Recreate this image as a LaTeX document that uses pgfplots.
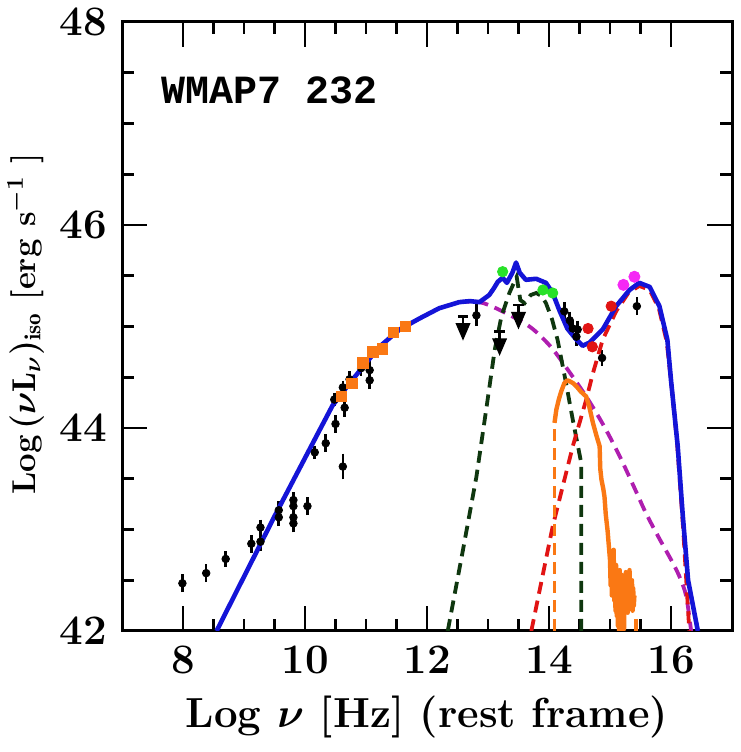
\documentclass[border=0pt]{standalone}
\usepackage{pgfplots}
\pgfplotsset{compat=1.18}
\usepackage{fontspec}
\newfontfamily\titlefont{Liberation Mono}
\definecolor{cblue}{RGB}{20,20,215}
\definecolor{cgreen}{RGB}{15,55,15}
\definecolor{cmag}{RGB}{175,30,175}
\definecolor{cred}{RGB}{225,20,20}
\definecolor{corange}{RGB}{250,120,20}
\definecolor{dgreen}{RGB}{40,225,40}
\definecolor{dmag}{RGB}{245,40,245}
\pgfdeclareplotmark{ulim}{%
  \pgfsetlinewidth{1.3pt}%
  \pgfpathmoveto{\pgfpoint{-2.6pt}{0pt}}\pgfpathlineto{\pgfpoint{2.6pt}{0pt}}\pgfusepathqstroke
  \pgfpathmoveto{\pgfpoint{0pt}{0pt}}\pgfpathlineto{\pgfpoint{0pt}{-4pt}}\pgfusepathqstroke
  \pgfpathmoveto{\pgfpoint{-2.8pt}{-4pt}}\pgfpathlineto{\pgfpoint{2.8pt}{-4pt}}\pgfpathlineto{\pgfpoint{0pt}{-10.5pt}}\pgfpathclose\pgfusepathqfillstroke}
\begin{document}
\begin{tikzpicture}
\begin{axis}[
  scale only axis, width=305pt, height=304.5pt,
  xmin=7, xmax=17, ymin=42, ymax=48,
  xtick={8,10,12,14,16}, ytick={42,44,46,48},
  minor x tick num=3, minor y tick num=3,
  major tick length=12.5pt, minor tick length=6pt,
  every tick/.style={black, line width=1.4pt},
  axis line style={line width=1.5pt},
  tick align=inside,
  /pgf/number format/assume math mode=true,
  tick label style={font=\fontsize{21}{24}\selectfont\bfseries},
  xticklabel style={yshift=-4pt},
  yticklabel style={xshift=-4pt},
  xlabel style={font=\fontsize{21}{24}\selectfont\bfseries\boldmath},
  ylabel style={font=\fontsize{16.5}{20}\selectfont\bfseries\boldmath},
  xlabel={Log $\nu$ [Hz] (rest frame)},
  ylabel={Log\,$(\nu\mathrm{L}_\nu)_{\mathrm{iso}}$ [erg s$^{-1}$ ]},
  xlabel style={at={(axis description cs:0.5,0)}, anchor=center, yshift=-43pt},
  ylabel style={at={(axis description cs:-0.158,0.504)}, anchor=center},
  clip=true,
]
% black data points with error bars
\addplot[only marks, mark=*, mark size=1.9pt, black,
  error bars/.cd, y dir=both, y explicit,
  error bar style={line width=1.3pt}, error mark options={line width=1.3pt, mark size=2.4pt}]
  table[x=x, y=y, y error=e] {
x y e
7.99 42.47 0.04
8.38 42.57 0.04
8.70 42.71 0.03
9.12 42.86 0.04
9.27 42.88 0.04
9.27 43.02 0.03
9.57 43.19 0.04
9.57 43.12 0.04
9.81 43.29 0.03
9.81 43.23 0.03
9.81 43.12 0.04
9.81 43.06 0.04
10.04 43.23 0.04
10.16 43.76 0.02
10.34 43.85 0.04
10.50 44.04 0.04
10.62 43.62 0.08
10.65 44.20 0.04
10.48 44.28 0.02
10.62 44.40 0.02
10.73 44.48 0.03
10.92 44.59 0.03
11.06 44.57 0.04
11.06 44.47 0.04
12.81 45.11 0.06
14.25 45.15 0.04
14.34 45.06 0.04
14.39 44.98 0.04
14.47 44.97 0.04
14.45 44.90 0.04
14.87 44.69 0.03
15.44 45.20 0.04
};
% upper limits
\addplot[only marks, mark=ulim, black] coordinates {(12.59,45.10) (13.19,44.95) (13.50,45.21)};
% orange squares
\addplot[only marks, mark=square*, mark size=2.6pt, corange] coordinates {
(10.60,44.31) (10.77,44.44) (10.95,44.64) (11.11,44.75) (11.27,44.78) (11.45,44.94) (11.65,45.00)};
% green dots
\addplot[only marks, mark=*, mark size=2.6pt, dgreen] coordinates {(13.24,45.54) (13.90,45.36) (14.06,45.33)};
% red dots
\addplot[only marks, mark=*, mark size=2.6pt, cred] coordinates {(14.64,44.98) (14.71,44.80) (15.02,45.20)};
% magenta dots
\addplot[only marks, mark=*, mark size=2.8pt, dmag] coordinates {(15.22,45.41) (15.40,45.49)};
% magenta dashed (synchrotron)
\addplot[cmag, line width=1.9pt, dash pattern=on 6pt off 3.5pt, smooth] coordinates {
(12.50,45.24) (12.86,45.24) (13.20,45.16) (13.68,45.00) (14.00,44.82) (14.23,44.64) (14.61,44.31)
(14.90,44.02) (15.16,43.72) (15.40,43.41) (15.59,43.16) (15.80,42.92) (16.03,42.67) (16.15,42.52)
(16.25,42.34) (16.33,42.00)};
% dark green dashed (torus)
\addplot[cgreen, line width=1.9pt, dash pattern=on 6pt off 3.5pt] coordinates {
(12.34,42.00) (12.59,42.80) (12.81,43.52) (12.97,44.18) (13.11,44.77) (13.22,45.10) (13.35,45.33)
(13.47,45.49) (13.53,45.26) (13.60,45.23) (13.70,45.31) (13.79,45.33) (13.88,45.30) (13.95,45.23)
(14.05,45.07) (14.14,44.87) (14.28,44.44) (14.39,44.08) (14.53,43.65) (14.53,42.00)};
% red dashed (disk)
\addplot[cred, line width=1.9pt, dash pattern=on 6pt off 3.5pt] coordinates {
(13.71,42.00) (14.06,43.03) (14.39,43.82) (14.61,44.28) (14.72,44.54) (14.88,44.87) (15.10,45.15)
(15.30,45.33) (15.48,45.40) (15.65,45.36) (15.80,45.18) (15.93,44.85) (16.02,44.35) (16.10,43.85)
(16.20,43.00) (16.30,42.00)};
% orange dashed ends
\addplot[corange, line width=1.9pt, dash pattern=on 6pt off 3.5pt] coordinates {(14.09,42.00) (14.09,44.05)};
\addplot[corange, line width=1.9pt, dash pattern=on 6pt off 3.5pt] coordinates {(15.43,42.00) (15.43,42.16)};
% orange spectrum
\addplot[corange, line width=2.2pt, line join=round] coordinates {
(14.09,44.05) (14.12,44.18) (14.16,44.28) (14.20,44.36) (14.25,44.44) (14.30,44.47) (14.34,44.46)
(14.40,44.44) (14.45,44.41) (14.52,44.36) (14.61,44.31) (14.66,44.21) (14.72,44.05) (14.78,43.92)
(14.83,43.82) (14.84,43.60) (14.86,43.49) (14.89,43.40) (14.91,43.32) (14.93,43.15) (14.96,42.99)
(14.99,42.77)
(15.00,42.70) (15.01,42.45) (15.02,42.78) (15.03,42.35) (15.04,42.62) (15.05,42.40) (15.06,42.80)
(15.07,42.30) (15.08,42.55) (15.09,42.20) (15.10,42.65) (15.11,42.15) (15.12,42.50) (15.13,42.05)
(15.14,42.45) (15.15,42.00) (15.16,42.60) (15.17,42.10) (15.18,42.40) (15.19,42.00) (15.20,42.55)
(15.21,42.12) (15.22,42.35) (15.23,42.02) (15.24,42.50) (15.25,42.20) (15.26,42.58) (15.27,42.25)
(15.28,42.45) (15.29,42.18) (15.30,42.52) (15.31,42.28) (15.32,42.60) (15.33,42.22) (15.34,42.40)
(15.35,42.30) (15.36,42.50) (15.37,42.20) (15.38,42.42) (15.39,42.25) (15.40,42.35)};
% blue total model
\addplot[cblue, line width=2.3pt, line join=round] coordinates {
(8.55,42.00) (9.50,43.13) (10.24,43.98) (10.45,44.22) (10.73,44.44) (11.00,44.64) (11.22,44.80)
(11.55,44.97) (11.88,45.08) (12.20,45.18) (12.53,45.24) (12.70,45.25) (12.86,45.24) (13.02,45.31)
(13.10,45.38) (13.16,45.44) (13.24,45.48) (13.31,45.43) (13.40,45.53) (13.46,45.63) (13.52,45.53)
(13.62,45.46) (13.79,45.47) (13.95,45.43) (14.06,45.33) (14.17,45.16) (14.30,44.98) (14.45,44.87)
(14.55,44.81) (14.66,44.84) (14.88,44.97) (15.10,45.20) (15.32,45.36) (15.48,45.43) (15.65,45.39)
(15.81,45.20) (15.94,44.87) (16.00,44.47) (16.11,43.82) (16.19,43.16) (16.28,42.50) (16.44,42.00)};
\node[anchor=west, font=\titlefont\bfseries\fontsize{20}{24}\selectfont] at (axis cs:7.53,47.33) {WMAP7 232};
\coordinate (bl) at ([xshift=-61pt,yshift=-60.5pt]rel axis cs:0,0);
\coordinate (tr) at ([xshift=4.5pt,yshift=11pt]rel axis cs:1,1);
\end{axis}
\pgfresetboundingbox
\path[use as bounding box] (bl) rectangle (tr);
\end{tikzpicture}
\end{document}
